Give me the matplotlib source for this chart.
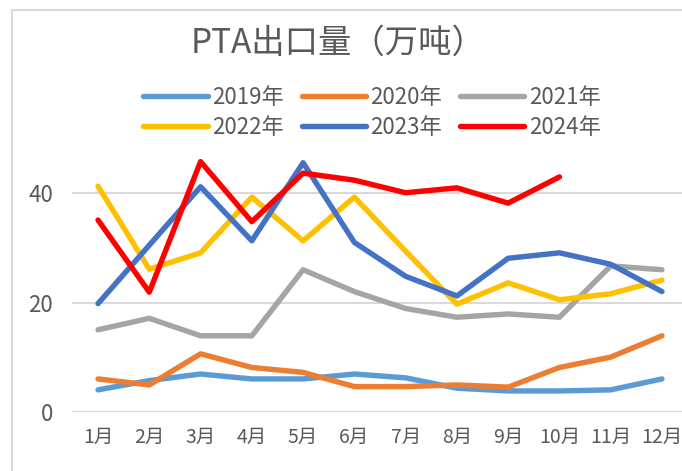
import matplotlib
matplotlib.use("Agg")
import matplotlib.pyplot as plt
from matplotlib.patches import Rectangle

plt.rcParams['font.family'] = ['Noto Sans CJK SC', 'DejaVu Sans']

months = ["1月", "2月", "3月", "4月", "5月", "6月", "7月", "8月", "9月", "10月", "11月", "12月"]
y2019 = [4.0, 5.7, 6.9, 6.0, 6.0, 6.9, 6.2, 4.3, 3.8, 3.8, 4.0, 6.0]
y2020 = [6.0, 4.9, 10.6, 8.1, 7.2, 4.6, 4.6, 4.9, 4.5, 8.1, 10.0, 13.9]
y2021 = [15.0, 17.1, 13.9, 13.9, 26.0, 22.0, 18.9, 17.3, 17.9, 17.3, 26.7, 26.0]
y2022 = [41.3, 26.1, 29.1, 39.3, 31.3, 39.3, 29.4, 19.7, 23.6, 20.5, 21.6, 24.1]
y2023 = [19.8, 30.5, 41.2, 31.3, 45.6, 31.0, 24.8, 21.2, 28.1, 29.1, 27.0, 22.0]
y2024 = [35.1, 21.9, 45.8, 34.8, 43.7, 42.4, 40.1, 41.0, 38.2, 43.0]
labels = ["2019年", "2020年", "2021年", "2022年", "2023年", "2024年"]
colors = ["#5B9BD5", "#ED7D31", "#A5A5A5", "#FFC000", "#4472C4", "#FF0000"]
title = "PTA出口量（万吨）"
yticks = [0, 20, 40]

W, H = 682, 471
fig = plt.figure(figsize=(W / 100, H / 100), dpi=100)

# chart border
fig.patches.append(Rectangle((12 / W, -0.1), 1.2, (H - 10) / H + 0.1,
                             transform=fig.transFigure, fill=False,
                             edgecolor="#D9D9D9", linewidth=1.5))

left_px, right_px = 72.4, 687.6
top_px, bot_px = 138.7, 411.7
ax = fig.add_axes([left_px / W, 1 - bot_px / H, (right_px - left_px) / W, (bot_px - top_px) / H])

series = [y2019, y2020, y2021, y2022, y2023, y2024]
handles = []
for vals, lab, col in zip(series, labels, colors):
    h, = ax.plot(range(len(vals)), vals, color=col, linewidth=3.9, label=lab,
                 solid_capstyle="round", solid_joinstyle="round")
    handles.append(h)

ax.set_xlim(-0.5, 11.5)
ax.set_ylim(0, 50)
ax.set_xticks(range(12))
ax.set_xticklabels(months)
ax.set_yticks(yticks)
ax.yaxis.grid(True, color="#D9D9D9", linewidth=1.5)
ax.set_axisbelow(True)
for s in ax.spines.values():
    s.set_visible(False)
ax.tick_params(axis="both", length=0, colors="#595959", labelsize=14)
ax.tick_params(axis="y", pad=14, labelsize=16)
ax.tick_params(axis="x", pad=11)

fig.text(338 / W, 1 - 43 / H, title, ha="center", va="center",
         fontsize=24, color="#595959")

order = [0, 3, 1, 4, 2, 5]
leg = fig.legend([handles[i] for i in order], [labels[i] for i in order],
                 ncol=3, loc="center", bbox_to_anchor=(372 / W, 1 - 112.5 / H),
                 frameon=False, fontsize=16, handlelength=2.9, handletextpad=0.2,
                 columnspacing=0.8, labelspacing=0.3, borderpad=0)
for t in leg.get_texts():
    t.set_color("#595959")

fig.savefig("out.png", dpi=100)
